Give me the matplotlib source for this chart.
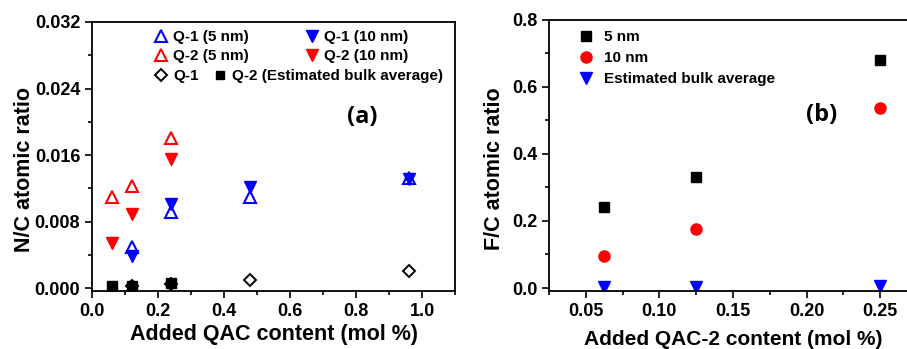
import numpy as np
import matplotlib.pyplot as plt
from matplotlib.ticker import MultipleLocator, FormatStrFormatter
from matplotlib.lines import Line2D

plt.rcParams['font.family'] = ['Liberation Sans', 'DejaVu Sans']
plt.rcParams['font.weight'] = 'bold'

# panel (a): N/C ratio vs added QAC content
q1_x = [0.12, 0.24, 0.48, 0.96]
q1_5nm = [0.0050, 0.0092, 0.0110, 0.0132]
q1_10nm = [0.0038, 0.0101, 0.0121, 0.0131]
q1_bulk = [0.0002, 0.0005, 0.0010, 0.0020]

q2_x = [0.06, 0.12, 0.24]
q2_5nm = [0.0110, 0.0123, 0.0180]
q2_10nm = [0.0054, 0.0089, 0.0155]
q2_bulk = [0.0002, 0.0003, 0.0006]

# panel (b): F/C ratio vs added QAC-2 content
qac2_x = [0.0625, 0.125, 0.25]
fc_5nm = [0.240, 0.331, 0.680]
fc_10nm = [0.095, 0.175, 0.537]
fc_bulk = [0.003, 0.004, 0.006]

BLUE = '#0000ff'
RED = '#ff0000'
LEG = {'size': 11, 'weight': 'bold'}


def style_axes(ax):
    for side in ['top', 'right', 'left', 'bottom']:
        ax.spines[side].set_linewidth(1.3)
    ax.tick_params(which='both', direction='out', top=False, right=False,
                   labelsize=13, width=1.2)
    ax.tick_params(which='major', length=5)
    ax.tick_params(which='minor', length=3)
    for lab in ax.get_xticklabels() + ax.get_yticklabels():
        lab.set_fontweight('bold')


fig = plt.figure(figsize=(9.07, 3.49), dpi=100)

# ---- panel (a)
ax1 = fig.add_axes([0.1014, 0.1662, 0.4003, 0.7708])
ax1.plot(q1_x, q1_bulk, 'D', ms=6, mfc='white', mec='black', mew=1.4, ls='none')
ax1.plot(q2_x, q2_bulk, 's', ms=6.5, color='black', ls='none')
ax1.plot(q1_x, q1_10nm, 'v', ms=9, color=BLUE, ls='none')
ax1.plot(q1_x, q1_5nm, '^', ms=9, mfc='none', mec=BLUE, mew=1.5, ls='none')
ax1.plot(q2_x, q2_10nm, 'v', ms=9, color=RED, ls='none')
ax1.plot(q2_x, q2_5nm, '^', ms=9, mfc='none', mec=RED, mew=1.5, ls='none')

ax1.set_xlim(0, 1.1)
ax1.set_ylim(-0.00035, 0.032)
ax1.xaxis.set_major_locator(MultipleLocator(0.2))
ax1.xaxis.set_minor_locator(MultipleLocator(0.1))
ax1.yaxis.set_major_locator(MultipleLocator(0.008))
ax1.yaxis.set_minor_locator(MultipleLocator(0.004))
ax1.xaxis.set_major_formatter(FormatStrFormatter('%.1f'))
ax1.yaxis.set_major_formatter(FormatStrFormatter('%.3f'))
ax1.set_xlabel('Added QAC content (mol %)', fontsize=15.5, fontweight='bold', labelpad=3)
ax1.set_ylabel('N/C atomic ratio', fontsize=15.5, fontweight='bold')
ax1.yaxis.set_label_coords(-0.158, 0.45)
style_axes(ax1)

h = [
    Line2D([], [], marker='^', ms=9, mfc='none', mec=BLUE, mew=1.5, ls='none'),
    Line2D([], [], marker='^', ms=9, mfc='none', mec=RED, mew=1.5, ls='none'),
    Line2D([], [], marker='v', ms=9, color=BLUE, ls='none'),
    Line2D([], [], marker='v', ms=9, color=RED, ls='none'),
]
leg1 = ax1.legend(h, ['Q-1 (5 nm)', 'Q-2 (5 nm)', 'Q-1 (10 nm)', 'Q-2 (10 nm)'],
                  ncol=2, loc='upper left', bbox_to_anchor=(0.14, 1.01),
                  frameon=False, prop=LEG,
                  handletextpad=0.3, handlelength=1.0, columnspacing=3.6,
                  labelspacing=0.35, borderaxespad=0.3)
ax1.add_artist(leg1)
h2 = [
    Line2D([], [], marker='D', ms=6, mfc='white', mec='black', mew=1.4, ls='none'),
    Line2D([], [], marker='s', ms=6, color='black', ls='none'),
]
ax1.legend(h2, ['Q-1', 'Q-2 (Estimated bulk average)'], ncol=2, loc='upper left',
           bbox_to_anchor=(0.14, 0.865), frameon=False, prop=LEG,
           handletextpad=0.3, handlelength=1.0, columnspacing=0.9,
           borderaxespad=0.3)
ax1.text(0.745, 0.645, '(a)', transform=ax1.transAxes, fontsize=17,
         fontweight='bold', ha='center', va='center', family='Open Sans')

# ---- panel (b)
ax2 = fig.add_axes([0.6053, 0.166, 0.4057, 0.778])
ax2.plot(qac2_x, fc_5nm, 's', ms=7, color='black', ls='none', label='5 nm')
ax2.plot(qac2_x, fc_10nm, 'o', ms=8, color=RED, ls='none', label='10 nm')
ax2.plot(qac2_x, fc_bulk, 'v', ms=9, color=BLUE, ls='none', label='Estimated bulk average')
ax2.set_xlim(0.025, 0.275)
ax2.set_ylim(-0.009, 0.8)
ax2.xaxis.set_major_locator(MultipleLocator(0.05))
ax2.xaxis.set_minor_locator(MultipleLocator(0.025))
ax2.yaxis.set_major_locator(MultipleLocator(0.2))
ax2.yaxis.set_minor_locator(MultipleLocator(0.1))
ax2.xaxis.set_major_formatter(FormatStrFormatter('%.2f'))
ax2.yaxis.set_major_formatter(FormatStrFormatter('%.1f'))
ax2.set_xlabel('Added QAC-2 content (mol %)', fontsize=15, fontweight='bold', labelpad=7)
ax2.set_ylabel('F/C atomic ratio', fontsize=15.5, fontweight='bold')
ax2.yaxis.set_label_coords(-0.119, 0.45)
style_axes(ax2)
ax2.legend(loc='upper left', bbox_to_anchor=(0.05, 1.0), frameon=False,
           prop=LEG, handletextpad=0.7, handlelength=1.0,
           labelspacing=0.45, borderaxespad=0.3)
ax2.text(0.74, 0.65, '(b)', transform=ax2.transAxes, fontsize=17,
         fontweight='bold', ha='center', va='center', family='Open Sans')

fig.savefig('out.png', dpi=100)
